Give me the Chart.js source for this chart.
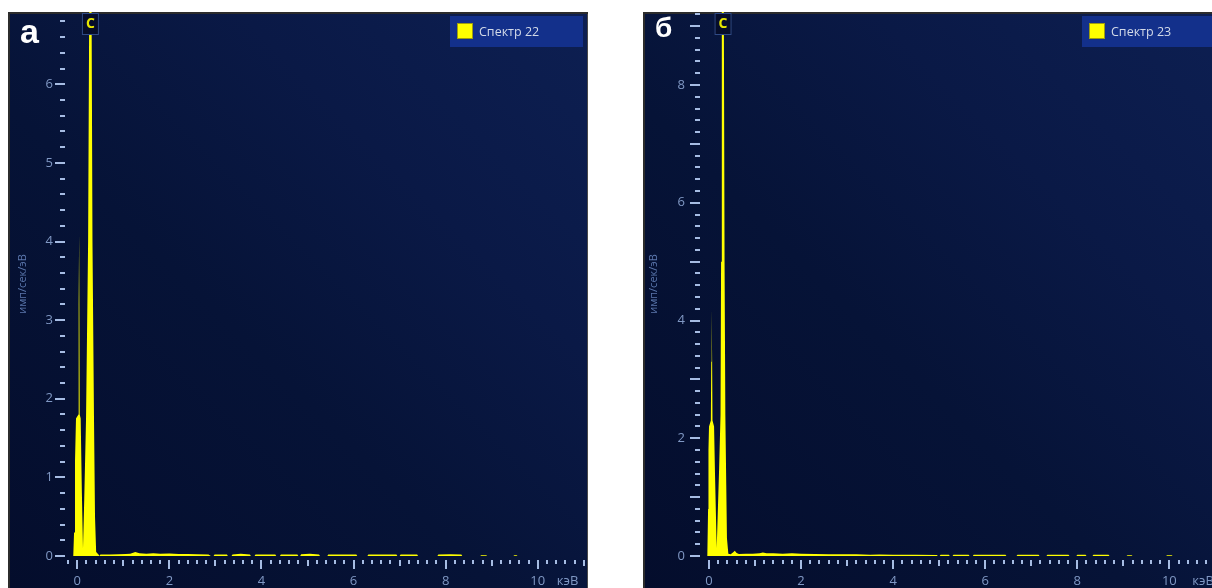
<!DOCTYPE html>
<html>
<head>
<meta charset="utf-8">
<script src="https://cdn.jsdelivr.net/npm/chart.js@4.4.1/dist/chart.umd.min.js"></script>
<style>
  html, body { margin: 0; padding: 0; width: 1212px; height: 588px; overflow: hidden; background: #ffffff; }
  .panel {
    position: absolute; top: 12px; width: 580px; height: 576px;
    background: linear-gradient(to bottom left, #0d1f52 0%, #0a1946 30%, #061337 58%, #040d2c 100%);
    box-shadow: inset 2px 2px 0 #2c2c2c, inset -1px 0 0 #4a4a4a;
  }
  #panelA { left: 8px; }
  #panelB { left: 643px; }
  .panel canvas { position: absolute; left: 0; top: 0; }
</style>
</head>
<body>
<div class="panel" id="panelA"><canvas id="chartA" width="580" height="576"></canvas></div>
<div class="panel" id="panelB"><canvas id="chartB" width="580" height="576"></canvas></div>
<script>
// ---- Spectrum 22: energy (keV) and count rate (имп/сек/эВ) ----
const energyA = [
  -0.09, -0.07, -0.05, -0.028, 0.025, 0.03, 0.04, 0.05, 0.055, 0.074, 0.10, 0.124, 0.15, 0.19, 0.235, 0.256, 0.285, 0.313, 0.33, 0.363, 0.385, 0.41, 0.49,
  0.50, 0.70, 0.90, 1.05, 1.15, 1.26, 1.35, 1.50, 1.65, 1.80, 2.00, 2.20, 2.40, 2.60, 2.85, 2.90,
  2.96, 2.98, 3.25, 3.27, 3.35, 3.37, 3.55, 3.75, 3.77, 3.85, 3.87, 4.30, 4.32, 4.40, 4.42, 4.78, 4.80,
  4.84, 4.86, 5.05, 5.25, 5.27, 5.43, 5.45, 6.06, 6.08, 6.30, 6.32, 6.93, 6.95, 7.00, 7.02, 7.38, 7.40,
  7.82, 7.84, 8.10, 8.34, 8.36, 8.75, 8.77, 8.88, 8.90, 9.47, 9.49, 9.54, 9.56, 11.0
];
const rateA = [
  0, 0.3, 1.2, 1.75, 1.8, 3.2, 4.1, 3.2, 1.8, 1.75, 0.8, 0.1, 0.7, 1.75, 4.0, 6.6, 9.5, 6.6, 4.0, 1.75, 0.5, 0.05, 0,
  0.02, 0.02, 0.022, 0.025, 0.03, 0.05, 0.035, 0.03, 0.035, 0.03, 0.032, 0.026, 0.024, 0.022, 0.02, 0,
  0, 0.02, 0.02, 0, 0, 0.02, 0.028, 0.02, 0, 0, 0.02, 0.02, 0, 0, 0.02, 0.02, 0,
  0, 0.022, 0.03, 0.02, 0, 0, 0.02, 0.02, 0, 0, 0.02, 0.02, 0, 0, 0.02, 0.02, 0,
  0, 0.02, 0.022, 0.02, 0, 0, 0.01, 0.01, 0, 0, 0.01, 0.01, 0, 0
];

// ---- Spectrum 23 ----
const energyB = [
  -0.04, -0.02, -0.012, 0.0, 0.04, 0.048, 0.058, 0.068, 0.076, 0.11, 0.13, 0.167, 0.22, 0.25, 0.262, 0.278, 0.30, 0.322, 0.338, 0.355, 0.375, 0.39, 0.42,
  0.47, 0.52, 0.56, 0.60, 0.65, 0.80, 0.95, 1.10, 1.17, 1.25, 1.40, 1.60, 1.80, 2.00, 2.30, 2.60, 2.90, 3.20, 3.50, 3.70, 4.00, 4.50, 4.95, 4.97,
  5.01, 5.03, 5.21, 5.23, 5.29, 5.31, 5.64, 5.66, 5.73, 5.75, 6.44, 6.46, 6.68, 6.70, 7.16, 7.18, 7.33, 7.35, 7.81, 7.83,
  7.98, 8.00, 8.18, 8.20, 8.33, 8.35, 8.68, 8.70, 9.07, 9.09, 9.18, 9.20, 9.93, 9.95, 10.05, 10.07, 11.1
];
const rateB = [
  0, 0.8, 1.8, 2.2, 2.3, 3.3, 4.21, 3.3, 2.3, 2.2, 1.4, 0.13, 1.5, 2.4, 5.0, 9.3, 12.0, 9.3, 5.0, 2.4, 1.2, 0.3, 0.04,
  0.03, 0.06, 0.09, 0.05, 0.035, 0.04, 0.04, 0.045, 0.06, 0.045, 0.045, 0.04, 0.045, 0.04, 0.035, 0.03, 0.028, 0.03, 0.022, 0.025, 0.02, 0.02, 0.018, 0,
  0, 0.02, 0.02, 0, 0, 0.02, 0.02, 0, 0, 0.02, 0.02, 0, 0, 0.02, 0.02, 0, 0, 0.02, 0.02, 0,
  0, 0.02, 0.02, 0, 0, 0.02, 0.02, 0, 0, 0.012, 0.012, 0, 0, 0.012, 0.012, 0, 0
];

// element line markers (keV)
const markersA = [{ symbol: 'C', keV: 0.285 }];
const markersB = [{ symbol: 'C', keV: 0.305 }];

const FONT = "'Open Sans', 'Noto Sans', 'DejaVu Sans', sans-serif";
const TICK_COLOR = '#a6bce3';
const LABEL_COLOR = '#8098c4';
const TITLE_COLOR = '#5b77ad';
const SPECTRUM_COLOR = '#ffff00';

// Minor ticks every 0.2, axis decorations, element marker, legend and panel letter
const spectrumDecor = {
  id: 'spectrumDecor',
  afterDatasetsDraw(chart, args, opts) {
    const { ctx, chartArea, scales: { x, y } } = chart;
    ctx.save();
    ctx.fillStyle = TICK_COLOR;
    // y ticks
    const yTop = Math.floor(y.max * 5 + 1e-6);
    for (let i = 0; i <= yTop; i++) {
      const py = Math.round(y.getPixelForValue(i / 5));
      const len = i % 5 === 0 ? 10 : 5;
      ctx.fillRect(chartArea.left - 1 - len, py - 1, len, 2);
    }
    // x ticks
    const xFrom = Math.ceil(x.min * 5 - 1e-6), xTo = Math.floor(x.max * 5 + 1e-6);
    for (let i = xFrom; i <= xTo; i++) {
      const px = Math.round(x.getPixelForValue(i / 5));
      const len = i % 10 === 0 ? 9 : (i % 5 === 0 ? 6 : 4);
      ctx.fillRect(px - 1, chartArea.bottom + 4, 2, len);
    }
    // unit label
    ctx.fillStyle = LABEL_COLOR;
    ctx.font = '13px ' + FONT;
    ctx.textAlign = 'left';
    ctx.textBaseline = 'middle';
    ctx.fillText('кэВ', x.getPixelForValue(10) + opts.unitGap, chartArea.bottom + 25);

    // element markers
    for (const m of opts.markers) {
      const cx = x.getPixelForValue(m.keV);
      ctx.fillStyle = '#060d2a';
      ctx.fillRect(cx - 8.5, 1.5, 17, 21.5);
      ctx.strokeStyle = '#2f4a85';
      ctx.lineWidth = 1;
      ctx.strokeRect(cx - 8, 1.5, 16, 21);
      ctx.fillStyle = '#e6e600';
      ctx.font = 'bold 14px ' + FONT;
      ctx.textAlign = 'center';
      ctx.textBaseline = 'middle';
      ctx.fillText(m.symbol, cx, 12.5);
    }

    // legend
    const lx = opts.legendX;
    ctx.fillStyle = '#13308b';
    ctx.fillRect(lx, 4, 133, 31);
    ctx.fillStyle = SPECTRUM_COLOR;
    ctx.fillRect(lx + 7, 11, 16, 16);
    ctx.strokeStyle = '#9d9d10';
    ctx.strokeRect(lx + 7.5, 11.5, 15, 15);
    ctx.fillStyle = '#d3dae8';
    ctx.font = '12.5px ' + FONT;
    ctx.textAlign = 'left';
    ctx.textBaseline = 'middle';
    ctx.fillText(chart.data.datasets[0].label, lx + 29, 20);

    // panel letter
    ctx.fillStyle = '#ffffff';
    ctx.font = 'bold ' + opts.letterSize + "px 'Liberation Sans', Arial, sans-serif";
    ctx.textAlign = 'left';
    ctx.textBaseline = 'alphabetic';
    ctx.fillText(opts.letter, 12, opts.letterBase);
    ctx.restore();
  }
};

function makeChart(id, name, energy, rate, p) {
  return new Chart(document.getElementById(id), {
    type: 'line',
    data: {
      datasets: [{
        label: name,
        data: energy.map((e, i) => ({ x: e, y: rate[i] })),
        fill: 'origin',
        backgroundColor: SPECTRUM_COLOR,
        borderWidth: 0,
        pointRadius: 0,
        tension: 0
      }]
    },
    options: {
      responsive: false,
      animation: false,
      devicePixelRatio: 1,
      layout: { padding: { top: 0, right: 3, bottom: 0, left: 0 } },
      plugins: {
        legend: { display: false },
        tooltip: { enabled: false },
        spectrumDecor: p.decor
      },
      scales: {
        x: {
          type: 'linear', min: p.xMin, max: p.xMax,
          grid: { display: false, drawTicks: false },
          border: { display: false },
          ticks: {
            stepSize: 1, includeBounds: false, autoSkip: false, maxRotation: 0,
            padding: 17, color: LABEL_COLOR, font: { family: FONT, size: 13 },
            callback: v => (Number.isInteger(v) && v % 2 === 0 && v >= 0 && v <= 10) ? String(v) : ''
          },
          afterFit: s => { s.height = 32; s.paddingLeft = 0; s.paddingRight = 0; }
        },
        y: {
          type: 'linear', min: 0, max: p.yMax,
          grid: { display: false, drawTicks: false },
          border: { display: false },
          ticks: {
            stepSize: p.yStep, includeBounds: false, autoSkip: false,
            padding: p.yPad, color: LABEL_COLOR, font: { family: FONT, size: 13 },
            callback: v => Number.isInteger(v) ? String(v) : ''
          },
          title: {
            display: true, text: 'имп/сек/эВ', color: TITLE_COLOR,
            font: { family: FONT, size: 11 }, padding: { top: p.titlePad, bottom: 0 }
          },
          afterFit: s => { s.width = 58; s.paddingTop = 0; s.paddingBottom = 0; }
        }
      }
    },
    plugins: [spectrumDecor]
  });
}

makeChart('chartA', 'Спектр 22', energyA, rateA, {
  xMin: -0.245, xMax: 11.025, yMax: 6.92, yStep: 1, yPad: 13, titlePad: 8,
  decor: { markers: markersA, legendX: 442, unitGap: 19, letter: 'а', letterSize: 34, letterBase: 31 }
});
makeChart('chartB', 'Спектр 23', energyB, rateB, {
  xMin: -0.174, xMax: 11.1, yMax: 9.24, yStep: 2, yPad: 16, titlePad: 4.5,
  decor: { markers: markersB, legendX: 439, unitGap: 23, letter: 'б', letterSize: 28, letterBase: 25 }
});
</script>
</body>
</html>
